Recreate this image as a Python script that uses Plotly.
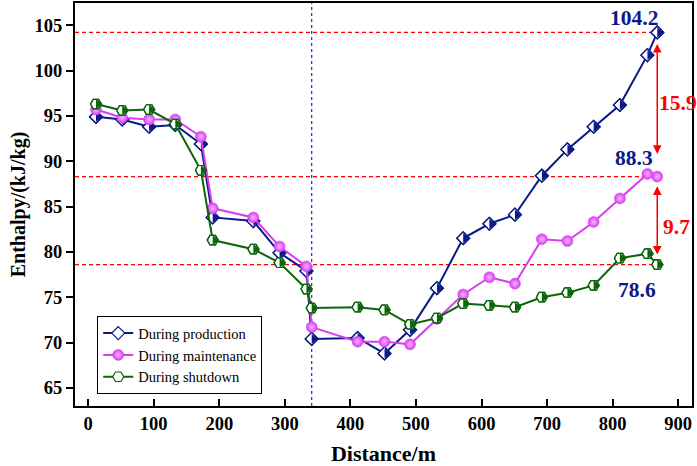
import plotly.graph_objects as go

# ---------------- data ----------------
distance = [12, 52, 93, 133, 172, 190, 252, 292, 333, 341, 411, 452, 491, 532,
            572, 612, 651, 692, 731, 771, 811, 853, 868]
production = [94.9, 94.6, 93.8, 94.0, 91.9, 83.8, 83.4, 79.9, 77.9, 70.4, 70.5, 68.8,
              71.4, 76.0, 81.5, 83.1, 84.1, 88.4, 91.3, 93.8, 96.2, 101.7, 104.2]
maintenance = [95.7, 94.8, 94.6, 94.6, 92.7, 84.8, 83.8, 80.6, 78.4, 71.7, 70.1, 70.1,
               69.8, 72.6, 75.3, 77.2, 76.5, 81.4, 81.2, 83.3, 85.9, 88.6, 88.3]
shutdown = [96.3, 95.6, 95.7, 94.1, 89.0, 81.3, 80.3, 78.8, 75.9, 73.8, 73.9, 73.6,
            72.0, 72.7, 74.3, 74.1, 73.9, 75.0, 75.5, 76.3, 79.3, 79.8, 78.6]
series_names = ["During production", "During maintenance", "During shutdown"]
end_values = [104.2, 88.3, 78.6]          # labelled end values
end_labels = ["104.2", "88.3", "78.6"]
diff_labels = ["15.9", "9.7"]
divide_distance = 341                      # vertical dashed line
x_ticks = [0, 100, 200, 300, 400, 500, 600, 700, 800, 900]
y_ticks = [65, 70, 75, 80, 85, 90, 95, 100, 105]
x_title = "Distance/m"
y_title = "Enthalpy/(kJ/kg)"

# ---------------- style ----------------
NAVY = "#0A1A88"
MAG = "#D93CF2"
GREEN = "#0B660B"
RED = "#FF0000"
BLUE = "#1A1AFF"
FONT = "Liberation Serif"
X_RANGE = [-20, 921]
Y_RANGE = [63, 107.45]

fig = go.Figure()

# production: half-filled diamonds
fig.add_trace(go.Scatter(
    x=distance, y=production, mode="lines+markers", name=series_names[0],
    line=dict(color=NAVY, width=2),
    marker=dict(symbol="diamond", size=10, color="white", line=dict(color=NAVY, width=1.2))))
fig.add_trace(go.Scatter(
    x=distance, y=production, mode="markers", showlegend=False, hoverinfo="skip",
    marker=dict(symbol="triangle-down", size=8.6, angle=-90, standoff=2.15,
                color=NAVY, line=dict(width=0))))
fig.add_trace(go.Scatter(
    x=distance, y=production, mode="markers", showlegend=False, hoverinfo="skip",
    marker=dict(symbol="diamond-open", size=10, color=NAVY, line=dict(color=NAVY, width=1.2))))

# maintenance: spheres
fig.add_trace(go.Scatter(
    x=distance, y=maintenance, mode="lines+markers", name=series_names[1],
    line=dict(color=MAG, width=2),
    marker=dict(symbol="circle", size=11, color=MAG,
                gradient=dict(type="radial", color="#F6B8FF"),
                line=dict(color=MAG, width=0.5))))

# shutdown: half-filled hexagons
fig.add_trace(go.Scatter(
    x=distance, y=shutdown, mode="lines+markers", name=series_names[2],
    line=dict(color=GREEN, width=2),
    marker=dict(symbol="hexagon2", size=11, color="white", line=dict(color=GREEN, width=1.2))))
fig.add_trace(go.Scatter(
    x=distance, y=shutdown, mode="markers", showlegend=False, hoverinfo="skip",
    marker=dict(symbol="triangle-down", size=8.8, angle=-90, standoff=2.2,
                color=GREEN, line=dict(width=0))))
fig.add_trace(go.Scatter(
    x=distance, y=shutdown, mode="markers", showlegend=False, hoverinfo="skip",
    marker=dict(symbol="hexagon2-open", size=11, color=GREEN, line=dict(color=GREEN, width=1.2))))

# reference lines
shapes = []
for v in end_values:
    shapes.append(dict(type="line", xref="x", yref="y", x0=X_RANGE[0], x1=distance[-1],
                       y0=v, y1=v, line=dict(color=RED, width=1.2, dash="4px,3px"),
                       layer="below"))
shapes.append(dict(type="line", xref="x", yref="paper", x0=divide_distance, x1=divide_distance,
                   y0=0, y1=1, line=dict(color=BLUE, width=1.2, dash="3px,3px"), layer="below"))

annotations = []
# double-headed arrows between end values
arrow_gaps = [(1.1, 2.5), (0.9, 1.1)]
for i in range(2):
    top, bot = end_values[i], end_values[i + 1]
    g_top, g_bot = arrow_gaps[i]
    annotations.append(dict(
        x=distance[-1], y=bot + g_bot, ax=distance[-1], ay=top - g_top,
        xref="x", yref="y", axref="x", ayref="y", text="", showarrow=True,
        arrowhead=2, startarrowhead=2, arrowside="end+start", arrowsize=1.15,
        startarrowsize=1.15, arrowwidth=1.5, arrowcolor=RED))
    annotations.append(dict(
        x=distance[-1], y=(top + bot) / 2 + (0.2 if i == 0 else -0.7), xref="x", yref="y",
        text="<b>%s</b>" % diff_labels[i], showarrow=False, xanchor="left",
        xshift=0 if i == 0 else 4, font=dict(family=FONT, size=21.5, color=RED)))

# end value labels
label_pos = [dict(yanchor="bottom", xshift=3, yshift=0),
             dict(yanchor="bottom", xshift=-2, yshift=5),
             dict(yanchor="top", xshift=1, yshift=-11)]
for v, t, p in zip(end_values, end_labels, label_pos):
    annotations.append(dict(
        x=distance[-1], y=v, xref="x", yref="y", text="<b>%s</b>" % t, showarrow=False,
        xanchor="right", yanchor=p["yanchor"], xshift=p["xshift"], yshift=p["yshift"],
        font=dict(family=FONT, size=21.5, color=NAVY)))

axis_common = dict(showline=True, linewidth=2, linecolor="black", mirror=True,
                   showgrid=False, zeroline=False, tickcolor="black", tickwidth=1.6,
                   automargin=False)

fig.update_layout(
    width=697, height=466,
    margin=dict(l=75, r=5, t=3, b=60, autoexpand=False),
    paper_bgcolor="white", plot_bgcolor="white",
    shapes=shapes, annotations=annotations,
    xaxis=dict(range=X_RANGE, tickvals=x_ticks, ticks="inside", ticklen=7,
               tickfont=dict(family=FONT, size=18.5, color="black", weight="bold"),
               title=dict(text=x_title, standoff=12,
                          font=dict(family=FONT, size=22, color="black", weight="bold")),
               **axis_common),
    yaxis=dict(range=Y_RANGE, tickvals=y_ticks, ticks="outside", ticklen=7,
               tickfont=dict(family=FONT, size=18.5, color="black", weight="bold"),
               title=dict(text=y_title, standoff=4,
                          font=dict(family=FONT, size=20, color="black", weight="bold")),
               **axis_common),
    legend=dict(x=0.036, y=0.223, xanchor="left", yanchor="top",
                bgcolor="white", bordercolor="black", borderwidth=1,
                font=dict(family=FONT, size=14.5, color="black"),
                tracegroupgap=0, itemwidth=30),
    showlegend=True,
)

fig.write_html("out.html", config={"displayModeBar": False},
               post_script="document.body.style.margin='0';document.body.style.overflow='hidden';")
